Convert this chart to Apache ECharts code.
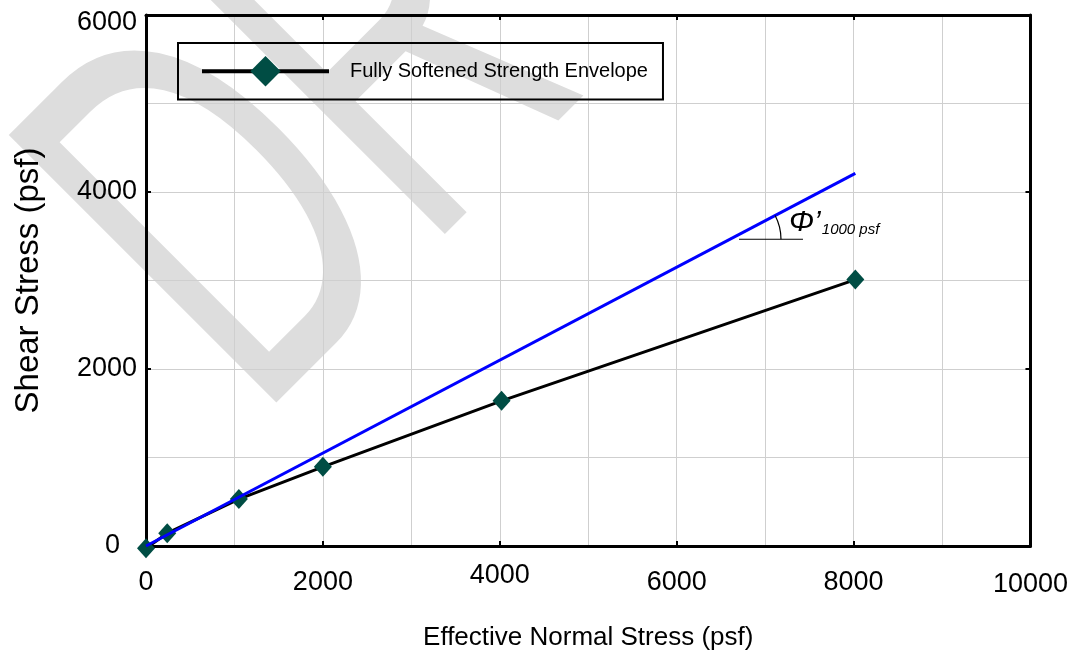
<!DOCTYPE html>
<html><head><meta charset="utf-8">
<script src="https://cdn.jsdelivr.net/npm/echarts@6/dist/echarts.min.js"></script>
<style>html,body{margin:0;padding:0;background:#fff}#c{width:1071px;height:658px}</style>
</head><body><div id="c"></div>
<script>
// ---- data ----
const normalStress = [0, 240, 1050, 2000, 4020, 8020];
const shearStress = [-25, 145, 530, 895, 1640, 3010];
const tangentNormal = [0, 8020];
const tangentShear = [0, 4210];
const xTicks = [0, 2000, 4000, 6000, 8000, 10000];
const yTicks = [0, 2000, 4000, 6000];
const seriesName = 'Fully Softened Strength Envelope';
const xTitle = 'Effective Normal Stress (psf)';
const yTitle = 'Shear Stress (psf)';
const annotLineNormal = [6705, 7428];
const annotLineShear = [3466, 3466];
const phiLabel = 'Φ’';
const phiSub = '1000 psf';
const phiPos = [7270, 3650];
const subPos = [7641, 3567];
const watermark = 'DR';

const FONT = '"Liberation Sans", Arial, sans-serif';
const chart = echarts.init(document.getElementById('c'), null, {renderer: 'canvas'});

const envelopeData = normalStress.map((x, i) => [x, shearStress[i]]);
const tangentData = tangentNormal.map((x, i) => [x, tangentShear[i]]);
const annotData = annotLineNormal.map((x, i) => [x, annotLineShear[i]]);

// watermark geometry (styling only)
const wmF = 550, wmS = 0.6, wmTheta = 45 * Math.PI / 180;
const apex = [278, 400];
const ub = [-Math.sin(wmTheta), -Math.cos(wmTheta)];
const bb = [Math.cos(wmTheta), -Math.sin(wmTheta)];
const wx = apex[0] + ub[0] * 0.2745 * wmF - bb[0] * 4;
const wy = apex[1] + ub[1] * 0.2745 * wmF - bb[1] * 4;

const xLabelRich = {
  a: {fontSize: 27, fontFamily: FONT, color: '#000', padding: [7, 0, 0, 0]},
  b: {fontSize: 27, fontFamily: FONT, color: '#000', padding: [0, 0, 0, 0]},
  c: {fontSize: 27, fontFamily: FONT, color: '#000', padding: [9, 0, 0, 0]}
};
const yLabelRich = {
  a: {fontSize: 27, fontFamily: FONT, color: '#000'},
  t: {fontSize: 27, fontFamily: FONT, color: '#000', padding: [16, 0, 0, 0]},
  z: {fontSize: 27, fontFamily: FONT, color: '#000', padding: [0, 17, 0, 0]}
};

const common = {
  axisLine: {show: true, onZero: false, lineStyle: {color: '#000', width: 3}},
  axisTick: {show: true, inside: true, length: 5, lineStyle: {color: '#000', width: 2}},
  minorTick: {show: false, splitNumber: 2},
  minorSplitLine: {show: true, lineStyle: {color: '#cfcfcf', width: 1}},
  splitLine: {show: true, lineStyle: {color: '#cfcfcf', width: 1}}
};

const wmGraphic = {
  type: 'text', x: wx, y: wy, rotation: wmTheta, scaleX: wmS, z: -10, silent: true,
  style: {text: watermark, x: -0.079 * wmF, y: 0, fill: '#dddddd',
    font: wmF + 'px ' + FONT, align: 'left', verticalAlign: 'middle',
    textAlign: 'left', textVerticalAlign: 'middle'}
};

const option = {
  animation: false,
  backgroundColor: '#fff',
  grid: {left: 146, right: 39, top: 15, bottom: 112, containLabel: false},
  graphic: [wmGraphic],
  legend: {
    data: [seriesName], left: 178, top: 43, orient: 'horizontal',
    padding: [13, 15, 13, 22], borderColor: '#000', borderWidth: 2, backgroundColor: 'transparent',
    itemWidth: 127, itemHeight: 38,
    lineStyle: {width: 4, color: '#000'},
    textStyle: {fontSize: 20, fontFamily: FONT, color: '#000', padding: [0, 0, 0, 16]},
    selectedMode: false
  },
  xAxis: [Object.assign({}, common, {
    type: 'value', position: 'bottom',
    min: xTicks[0], max: xTicks[xTicks.length - 1], interval: xTicks[1] - xTicks[0],
    name: xTitle, nameLocation: 'middle', nameGap: 79,
    nameTextStyle: {fontSize: 26, fontFamily: FONT, color: '#000'},
    axisLabel: {margin: 16, formatter: v => v === 4000 ? '{b|' + v + '}' : (v === 10000 ? '{c|' + v + '}' : '{a|' + v + '}'), rich: xLabelRich}
  }), Object.assign({}, common, {
    type: 'value', position: 'top',
    min: xTicks[0], max: xTicks[xTicks.length - 1], interval: xTicks[1] - xTicks[0],
    axisLabel: {show: false}, splitLine: {show: false}, minorSplitLine: {show: false}
  })],
  yAxis: [Object.assign({}, common, {
    type: 'value', position: 'left',
    min: yTicks[0], max: yTicks[yTicks.length - 1], interval: yTicks[1] - yTicks[0],
    name: yTitle, nameLocation: 'middle', nameGap: 101, nameRotate: 90,
    nameTextStyle: {fontSize: 33, fontFamily: FONT, color: '#000'},
    axisLabel: {margin: 9, formatter: v => v === 0 ? '{z|' + v + '}' : (v === 6000 ? '{t|' + v + '}' : '{a|' + v + '}'), rich: yLabelRich}
  }), Object.assign({}, common, {
    type: 'value', position: 'right',
    min: yTicks[0], max: yTicks[yTicks.length - 1], interval: yTicks[1] - yTicks[0],
    axisLabel: {show: false}, splitLine: {show: false}, minorSplitLine: {show: false}
  })],
  series: [
    {
      name: seriesName, type: 'line', data: envelopeData, z: 3, clip: false,
      symbol: 'diamond', symbolSize: [18, 20],
      lineStyle: {color: '#000', width: 3},
      itemStyle: {color: '#004d44'},
      emphasis: {disabled: true}
    },
    {
      name: 'tangent', type: 'line', data: tangentData, z: 4, clip: false,
      symbol: 'none', lineStyle: {color: '#0000ff', width: 3}, silent: true
    },
    {
      name: 'annot', type: 'line', data: annotData, z: 4,
      symbol: 'none', lineStyle: {color: '#000', width: 1}, silent: true
    }
  ]
};
chart.setOption(option);

// angle annotation (arc + labels) placed through the axes' scales
const slope = tangentShear[1] / tangentNormal[1];
const cxData = annotLineShear[0] / slope;
const cPix = chart.convertToPixel({xAxisIndex: 0, yAxisIndex: 0}, [cxData, annotLineShear[0]]);
const endPix = chart.convertToPixel({xAxisIndex: 0, yAxisIndex: 0}, tangentData[1]);
const ang = Math.atan2(endPix[1] - cPix[1], endPix[0] - cPix[0]);
const phiPix = chart.convertToPixel({xAxisIndex: 0, yAxisIndex: 0}, phiPos);
const subPix = chart.convertToPixel({xAxisIndex: 0, yAxisIndex: 0}, subPos);
chart.setOption({
  graphic: [
    wmGraphic,
    {type: 'arc', z: 10, silent: true,
      shape: {cx: cPix[0], cy: cPix[1], r: 51, startAngle: ang, endAngle: 0, clockwise: true},
      style: {stroke: '#000', lineWidth: 1.2, fill: null}},
    {type: 'text', z: 10, x: phiPix[0], y: phiPix[1], silent: true,
      style: {text: phiLabel, fill: '#000', font: 'italic 30px ' + FONT,
        align: 'left', verticalAlign: 'middle', textAlign: 'left', textVerticalAlign: 'middle'}},
    {type: 'text', z: 10, x: subPix[0], y: subPix[1], silent: true,
      style: {text: phiSub, fill: '#000', font: 'italic 15px ' + FONT,
        align: 'left', verticalAlign: 'middle', textAlign: 'left', textVerticalAlign: 'middle'}}
  ]
});
</script>
</body></html>
